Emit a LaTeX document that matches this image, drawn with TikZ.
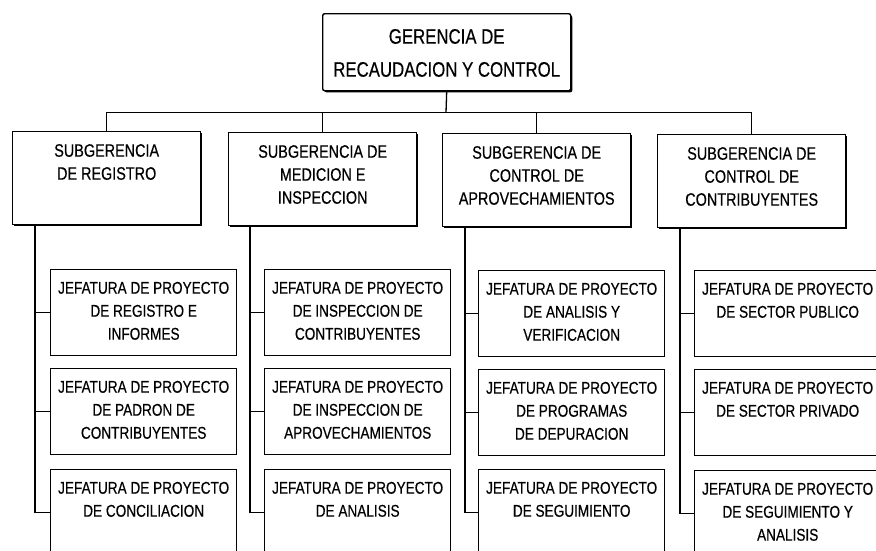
\documentclass[tikz,border=0pt]{standalone}
\usepackage{fontspec}
\newfontfamily\nf[FakeStretch=0.8,FakeBold=0.4]{Liberation Sans}
\usetikzlibrary{shadows}
\newcommand{\jt}[1]{\parbox[c][86pt][t]{186pt}{\centering\nf\fontsize{17}{23}\selectfont\rule{0pt}{24pt}#1\par}}
\newcommand{\st}[1]{\parbox[c][93pt][t]{188pt}{\centering\nf\fontsize{18}{23}\selectfont\rule{0pt}{25pt}#1\par}}
\newcommand{\gt}[1]{\parbox[c][77pt][t]{248pt}{\centering\nf\fontsize{21}{33}\selectfont\rule{0pt}{30pt}#1\par}}
\tikzset{
  box/.style={draw, line width=1.4pt, inner sep=0pt, fill=white, anchor=north west},
  shad/.style={drop shadow={shadow xshift=1.6pt, shadow yshift=-1.6pt, fill=black, opacity=1}},
  conn/.style={line width=1.3pt}
}
\begin{document}
\begin{tikzpicture}[x=1pt,y=-1pt]
\useasboundingbox (0,0) rectangle (876,550);
\clip (0,0) rectangle (876,550);
% top
\node[box, shad, rounded corners=2pt] (ger) at (322,13) {\gt{GERENCIA DE\\RECAUDACION Y CONTROL}};
% subgerencias
\node[box, shad] (s1) at (12,131) {\st{SUBGERENCIA\\DE REGISTRO}};
\node[box, shad] (s2) at (228,132) {\st{SUBGERENCIA DE\\MEDICION E\\INSPECCION}};
\node[box, shad] (s3) at (442,133) {\st{SUBGERENCIA DE\\CONTROL DE\\APROVECHAMIENTOS}};
\node[box, shad] (s4) at (657,134) {\st{SUBGERENCIA DE\\CONTROL DE\\CONTRIBUYENTES}};
% bus
\coordinate (bus) at (446,112.5);
\draw[conn] (ger.south) -- (bus);
\draw[conn] (s1.north) |- (bus) -| (s4.north);
\draw[conn] (s2.north) -- (s2.north |- bus);
\draw[conn] (s3.north) -- (s3.north |- bus);
% jefaturas col 1
\node[box] (j11) at (50,269) {\jt{JEFATURA DE PROYECTO\\DE REGISTRO E\\INFORMES}};
\node[box] (j12) at (50,368) {\jt{JEFATURA DE PROYECTO\\DE PADRON DE\\CONTRIBUYENTES}};
\node[box] (j13) at (50,469) {\jt{JEFATURA DE PROYECTO\\DE CONCILIACION}};
% col 2
\node[box] (j21) at (264,269) {\jt{JEFATURA DE PROYECTO\\DE INSPECCION DE\\CONTRIBUYENTES}};
\node[box] (j22) at (264,368) {\jt{JEFATURA DE PROYECTO\\DE INSPECCION DE\\APROVECHAMIENTOS}};
\node[box] (j23) at (264,469) {\jt{JEFATURA DE PROYECTO\\DE ANALISIS}};
% col 3
\node[box] (j31) at (478,270) {\jt{JEFATURA DE PROYECTO\\DE ANALISIS Y\\VERIFICACION}};
\node[box] (j32) at (478,369) {\jt{JEFATURA DE PROYECTO\\DE PROGRAMAS\\DE DEPURACION}};
\node[box] (j33) at (478,469) {\jt{JEFATURA DE PROYECTO\\DE SEGUIMIENTO}};
% col 4
\node[box] (j41) at (694,270) {\jt{JEFATURA DE PROYECTO\\DE SECTOR PUBLICO}};
\node[box] (j42) at (694,369) {\jt{JEFATURA DE PROYECTO\\DE SECTOR PRIVADO}};
\node[box] (j43) at (694,470) {\jt{JEFATURA DE PROYECTO\\DE SEGUIMIENTO Y\\ANALISIS}};
% spines
\foreach \c/\dx in {1/23,2/22,3/23,4/23}{
  \coordinate (sp\c) at ([xshift=\dx pt]s\c.south west);
  \draw[conn] (sp\c) |- (j\c3.west);
  \draw[conn] (sp\c |- j\c1.west) -- (j\c1.west);
  \draw[conn] (sp\c |- j\c2.west) -- (j\c2.west);
}
\end{tikzpicture}
\end{document}
